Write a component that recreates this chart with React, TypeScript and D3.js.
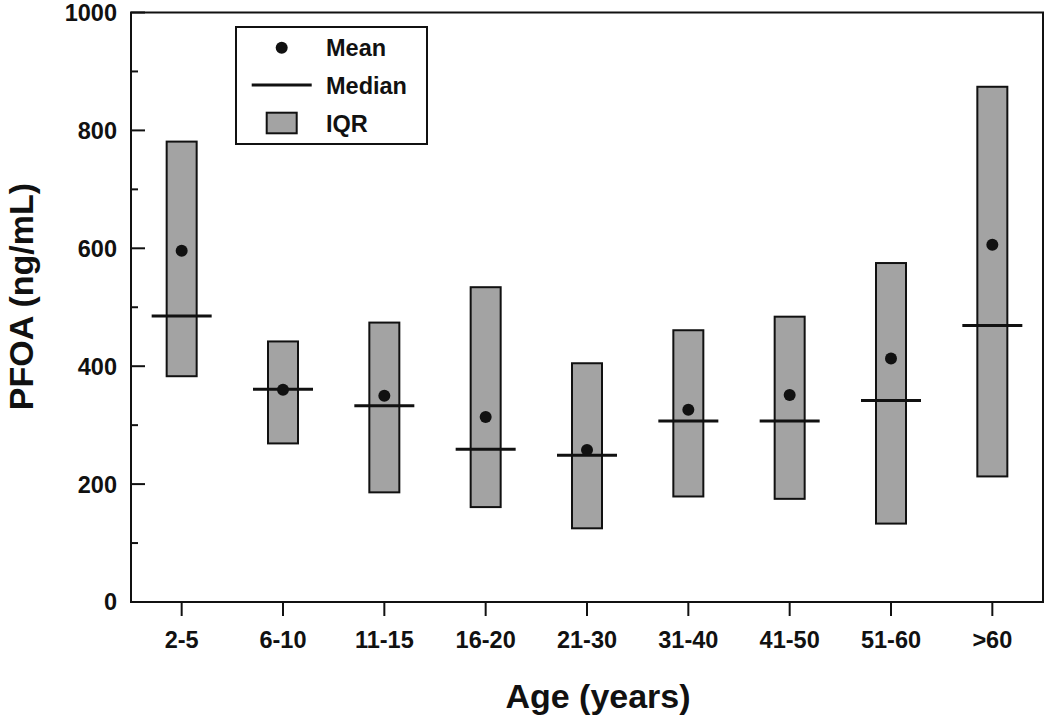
import React from "react";
import * as d3 from "d3";

const categories = ["2-5", "6-10", "11-15", "16-20", "21-30", "31-40", "41-50", "51-60", ">60"];
const q1Values = [383, 269, 186, 161, 125, 179, 175, 133, 213];
const q3Values = [781, 442, 474, 534, 405, 461, 484, 575, 874];
const meanValues = [596, 360, 350, 314, 258, 326, 351, 413, 606];
const medianValues = [485, 361, 333, 259, 249, 307, 307, 342, 469];
const majorTicks = [0, 200, 400, 600, 800, 1000];
const minorTicks = [100, 300, 500, 700, 900];
const legendItems = ["Mean", "Median", "IQR"];

const W = 1050;
const H = 720;
const left = 131;
const right = 1043;
const top = 12.5;
const bottom = 602;
const FONT = "'Liberation Sans', Arial, Helvetica, sans-serif";
const INK = "#111";
const FILL = "#a3a3a3";

export default function App() {
  const x = d3.scalePoint<string>().domain(categories).range([left, right]).padding(0.5);
  const y = d3.scaleLinear().domain([0, 1000]).range([bottom, top]);
  const boxW = 30;
  const medW = 60;

  return (
    <svg
      width={W}
      height={H}
      style={{ position: "absolute", left: 0, top: 0, background: "#fff" }}
      fontFamily={FONT}
      fontWeight="bold"
    >
      <rect x={0} y={0} width={W} height={H} fill="#fff" />
      {/* boxes */}
      {categories.map((c, i) => {
        const cx = x(c) as number;
        return (
          <g key={c}>
            <rect
              x={cx - boxW / 2}
              y={y(q3Values[i])}
              width={boxW}
              height={y(q1Values[i]) - y(q3Values[i])}
              fill={FILL}
              stroke={INK}
              strokeWidth={2}
            />
            <line
              x1={cx - medW / 2}
              x2={cx + medW / 2}
              y1={y(medianValues[i])}
              y2={y(medianValues[i])}
              stroke={INK}
              strokeWidth={3}
            />
            <circle cx={cx} cy={y(meanValues[i])} r={6} fill={INK} />
          </g>
        );
      })}
      {/* frame */}
      <rect x={left} y={top} width={right - left} height={bottom - top} fill="none" stroke={INK} strokeWidth={2} />
      {/* y ticks (inward) */}
      {majorTicks.map((t) => (
        <g key={"yt" + t}>
          <line x1={left} x2={left + 14} y1={y(t)} y2={y(t)} stroke={INK} strokeWidth={2} />
          <text x={117} y={y(t)} dy="0.36em" textAnchor="end" fontSize={23.5} fill={INK}>
            {t}
          </text>
        </g>
      ))}
      {minorTicks.map((t) => (
        <line key={"ym" + t} x1={left} x2={left + 7} y1={y(t)} y2={y(t)} stroke={INK} strokeWidth={2} />
      ))}
      {/* x ticks (outward) */}
      {categories.map((c) => (
        <g key={"xt" + c}>
          <line x1={x(c)} x2={x(c)} y1={bottom} y2={bottom + 14} stroke={INK} strokeWidth={2} />
          <text x={x(c)} y={648} textAnchor="middle" fontSize={23.5} fill={INK}>
            {c}
          </text>
        </g>
      ))}
      {/* axis titles */}
      <text x={598} y={708} textAnchor="middle" fontSize={34} fill={INK}>
        Age (years)
      </text>
      <text
        transform={`translate(33, ${296.5}) rotate(-90)`}
        textAnchor="middle"
        fontSize={34}
        fill={INK}
      >
        PFOA (ng/mL)
      </text>
      {/* legend */}
      <rect x={236} y={27} width={191} height={117} fill="#fff" stroke={INK} strokeWidth={2} />
      <circle cx={281.7} cy={47.7} r={6} fill={INK} />
      <line x1={251.7} x2={311.7} y1={85} y2={85} stroke={INK} strokeWidth={3} />
      <rect x={266.7} y={112.7} width={30} height={20.6} fill={FILL} stroke={INK} strokeWidth={2} />
      {legendItems.map((name, i) => (
        <text key={name} x={326} y={[56, 94, 131.7][i]} fontSize={23.5} fill={INK}>
          {name}
        </text>
      ))}
    </svg>
  );
}
